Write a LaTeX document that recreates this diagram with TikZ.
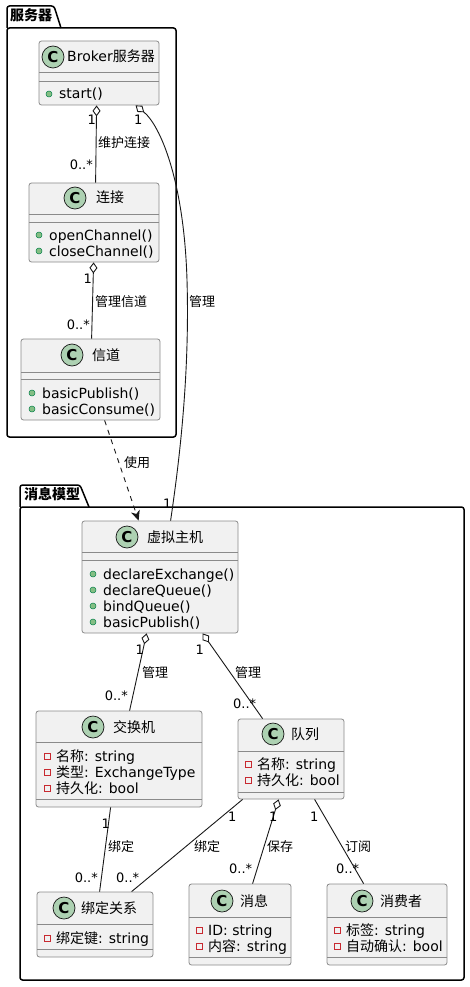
\documentclass[tikz,border=0pt]{standalone}
\usepackage{fontspec}
\setmainfont{DejaVu Sans}
\newfontfamily\cjk{Noto Sans CJK SC}
\usetikzlibrary{arrows.meta}
\definecolor{clsfill}{HTML}{F1F1F1}
\definecolor{clsdraw}{HTML}{181818}
\definecolor{clsedge}{HTML}{8A8A8A}
\definecolor{iconfill}{HTML}{ADD1B2}
\definecolor{pubfill}{HTML}{84BE84}
\definecolor{pubdraw}{HTML}{038048}
\definecolor{privdraw}{HTML}{C82930}
\tikzset{
  clsbox/.style={draw=clsedge, fill=clsfill, line width=0.8pt, rounded corners=2.5pt, inner sep=0pt},
  clssep/.style={draw=clsedge, line width=0.8pt},
  cicon/.style={circle, draw=clsdraw, fill=iconfill, minimum size=22pt, inner sep=0pt, line width=0.7pt, font=\fontsize{15}{15}\selectfont\bfseries},
  ttl/.style={anchor=base west, inner sep=0pt, font=\fontsize{14}{16}\selectfont},
  mem/.style={anchor=base west, inner sep=0pt, font=\fontsize{14}{16}\selectfont},
  pubdot/.style={circle, fill=pubfill, draw=pubdraw, line width=0.5pt, minimum size=6pt, inner sep=0pt},
  privsq/.style={rectangle, draw=privdraw, line width=0.8pt, minimum size=6pt, inner sep=0pt},
  lbl/.style={anchor=base west, inner sep=0pt, font=\fontsize{13}{15}\selectfont},
  lble/.style={lbl, anchor=base east},
  pkg/.style={draw=black, line width=1.5pt},
  pkgttl/.style={anchor=base west, inner sep=0pt, font=\fontsize{14}{16}\selectfont\bfseries},
  rel/.style={draw=clsdraw, line width=0.9pt},
  agg/.style={rel, {Diamond[open,length=11pt,width=8pt]}-},
  dep/.style={rel, dash pattern=on 5pt off 5pt, -{Stealth[length=10pt,width=9pt,inset=3pt]}}
}
\newcommand\umlbox[7]{%
  \node[clsbox, minimum width={(#4)-(#2)}, minimum height={(#5)-(#3)}] (#1) at ({((#2)+(#4))/2},{((#3)+(#5))/2}) {};
  \draw[clssep] (#2,#6) -- (#4,#6) (#2,#7) -- (#4,#7);}
\newcommand\umlhead[5]{%
  \node[cicon] (#1c) at (#2,#3) {C};
  \node[ttl] (#1t) at (#4,{(#3)+5}) {#5};}
\newcommand\pubm[4]{%
  \node[pubdot] (#1d) at (#2,#3) {};
  \node[mem] (#1) at ({(#2)+10},{(#3)+5}) {#4};}
\newcommand\privm[4]{%
  \node[privsq] (#1d) at (#2,#3) {};
  \node[mem] (#1) at ({(#2)+9},{(#3)+5}) {#4};}
\begin{document}
\begin{tikzpicture}[x=1pt,y=-1pt]
\useasboundingbox (0,0) rectangle (470,987);
% packages
\draw[pkg, rounded corners=2.5pt] (7,28) -- (7,6) -- (54,6) -- (61,28);
\draw[pkg, rounded corners=2.5pt] (7,28) rectangle (176,437);
\node[pkgttl] (pkgA) at (10,21) {\cjk\bfseries 服务器};
\draw[pkg, rounded corners=2.5pt] (20,507) -- (20,485) -- (80,485) -- (89,507);
\draw[pkg, rounded corners=2.5pt] (20,507) rectangle (464,980);
\node[pkgttl] (pkgB) at (24,499) {\cjk\bfseries 消息模型};
% classes
\umlbox{broker}{39}{41}{159}{105}{72}{81}
\umlhead{broker}{53}{57}{67}{Broker{\cjk 服务器}}
\pubm{brokerm1}{49}{94}{start()}
\umlbox{conn}{29}{183}{159}{262}{214}{222}
\umlhead{conn}{75}{198}{96}{\cjk 连接}
\pubm{connm1}{39}{235}{openChannel()}
\pubm{connm2}{39}{251}{closeChannel()}
\umlbox{chan}{21}{339}{160}{420}{372}{379.5}
\umlhead{chan}{72}{355}{92}{\cjk 信道}
\pubm{chanm1}{32}{393}{basicPublish()}
\pubm{chanm2}{32}{409}{basicConsume()}
\umlbox{vhost}{82}{521}{238}{633}{552}{560}
\umlhead{vhost}{127}{537}{147}{\cjk 虚拟主机}
\pubm{vhostm1}{93}{574}{declareExchange()}
\pubm{vhostm2}{93}{590}{declareQueue()}
\pubm{vhostm3}{93}{606}{bindQueue()}
\pubm{vhostm4}{93}{622}{basicPublish()}
\umlbox{exch}{36}{711}{202}{807}{742}{799}
\umlhead{exch}{93}{727}{113}{\cjk 交换机}
\privm{exchf1}{47}{756}{{\cjk 名称}: string}
\privm{exchf2}{47}{772}{{\cjk 类型}: ExchangeType}
\privm{exchf3}{47}{788}{{\cjk 持久化}: bool}
\umlbox{queue}{238}{719}{344}{799}{751}{792}
\umlhead{queue}{273}{734}{291}{\cjk 队列}
\privm{queuef1}{248}{764}{{\cjk 名称}: string}
\privm{queuef2}{248}{780}{{\cjk 持久化}: bool}
\umlbox{bind}{37}{892}{153}{957}{924}{949}
\umlhead{bind}{64}{908}{81}{\cjk 绑定关系}
\privm{bindf1}{47}{938}{{\cjk 绑定键}: string}
\umlbox{msg}{189}{884}{291}{965}{917}{957}
\umlhead{msg}{222}{901}{240}{\cjk 消息}
\privm{msgf1}{199}{930}{ID: string}
\privm{msgf2}{199}{946}{{\cjk 内容}: string}
\umlbox{cons}{327}{884}{447}{965}{917}{957}
\umlhead{cons}{362}{901}{380}{\cjk 消费者}
\privm{consf1}{337}{930}{{\cjk 标签}: string}
\privm{consf2}{337}{946}{{\cjk 自动确认}: bool}
% connectors
\draw[agg] ([xshift=58pt]broker.south west) -- ([xshift=67pt]conn.north west);
\draw[agg] ([xshift=97pt]broker.south west) .. controls (160,125) and (184,180) .. (187,280)
   .. controls (190,380) and (178,470) .. ([xshift=89pt]vhost.north west);
\draw[agg] ([xshift=65pt]conn.south west) -- ([xshift=71pt]chan.north west);
\draw[dep] ([xshift=84pt]chan.south west) -- ([xshift=57pt]vhost.north west);
\draw[agg] ([xshift=65pt]vhost.south west) -- ([xshift=94pt]exch.north west);
\draw[agg] ([xshift=121pt]vhost.south west) -- ([xshift=25pt]queue.north west);
\draw[rel] ([xshift=75pt]exch.south west) -- ([xshift=63pt]bind.north west);
\draw[rel] ([xshift=5pt]queue.south west) -- ([xshift=95pt]bind.north west);
\draw[agg] ([xshift=41pt]queue.south west) -- ([xshift=64pt]msg.north west);
\draw[rel] ([xshift=77pt]queue.south west) -- ([xshift=37pt]cons.north west);
% labels
\node[lble] (l1) at (96,125) {1};
\node[lbl] (l2) at (98,148) {\cjk 维护连接};
\node[lble] (l3) at (93,170) {0..*};
\node[lbl] (l4) at (134,125) {1};
\node[lbl] (l5) at (189,306) {\cjk 管理};
\node[lbl] (l6) at (163,508) {1};
\node[lble] (l7) at (92,283) {1};
\node[lbl] (l8) at (95,306) {\cjk 管理信道};
\node[lble] (l9) at (90,329) {0..*};
\node[lbl] (l10) at (124,467) {\cjk 使用};
\node[lble] (l11) at (144,654) {1};
\node[lbl] (l12) at (142,677) {\cjk 管理};
\node[lble] (l13) at (128,700) {0..*};
\node[lble] (l14) at (204,654) {1};
\node[lbl] (l15) at (235,677) {\cjk 管理};
\node[lbl] (l16) at (233,708) {0..*};
\node[lble] (l17) at (110,828) {1};
\node[lbl] (l18) at (108,851) {\cjk 绑定};
\node[lble] (l19) at (98,882) {0..*};
\node[lbl] (l20) at (228,821) {1};
\node[lbl] (l21) at (194,851) {\cjk 绑定};
\node[lbl] (l22) at (116,882) {0..*};
\node[lbl] (l23) at (269,821) {1};
\node[lbl] (l24) at (267,851) {\cjk 保存};
\node[lbl] (l25) at (229,873) {0..*};
\node[lbl] (l26) at (310,821) {1};
\node[lbl] (l27) at (345,851) {\cjk 订阅};
\node[lbl] (l28) at (336,873) {0..*};
\end{tikzpicture}
\end{document}
